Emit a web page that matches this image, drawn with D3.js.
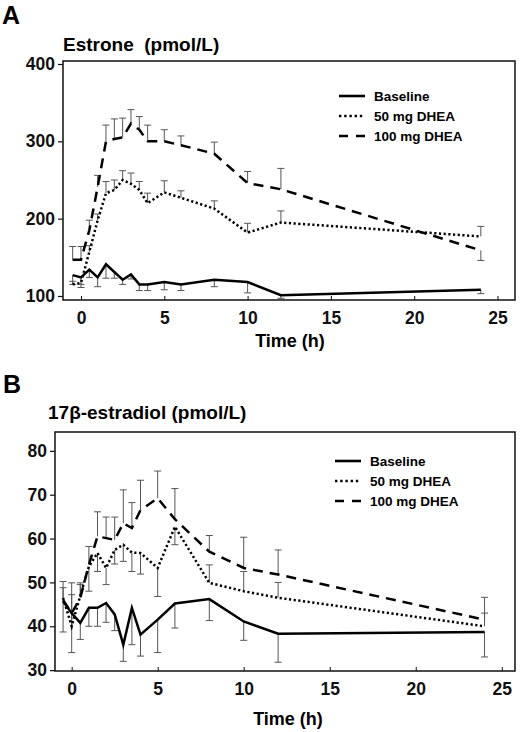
<!DOCTYPE html>
<html>
<head>
<meta charset="utf-8">
<script src="https://cdn.jsdelivr.net/npm/d3@7"></script>
<style>
  body { margin: 0; background: #fff; }
  svg { display: block; font-family: "Liberation Sans", Arial, sans-serif; }
</style>
</head>
<body>
<svg id="chart" width="520" height="732"></svg>
<script>
// Time points (h), shared by both panels
const times = [-0.5, 0, 0.5, 1, 1.5, 2, 2.5, 3, 3.5, 4, 5, 6, 8, 10, 12, 24];
const xTicks = [0, 5, 10, 15, 20, 25];

const seriesNames = ["Baseline", "50 mg DHEA", "100 mg DHEA"];

// Panel A: estrone (pmol/L); errors are signed (negative = bar drawn downwards)
const estroneBaseline = [127, 124, 134, 124, 141, 131, 121, 128, 115, 115, 118, 115, 121, 118, 101, 108];
const estroneBaselineErr = [-12, -9, -10, -12, -18, -8, -6, -6, -8, -8, -10, -8, -9, -14, -4, -5];
const estrone50 = [115, 117, 157, 198, 233, 237, 250, 245, 237, 220, 234, 227, 213, 182, 195, 177];
const estrone50Err = [4, -6, 8, 8, 15, 13, 12, 14, 11, 13, 15, 9, 10, 12, 15, 13];
const estrone100 = [147, 147, 185, 241, 300, 303, 305, 323, 315, 300, 300, 295, 284, 246, 238, 159];
const estrone100Err = [17, 17, 13, 15, 21, 26, 25, 18, 17, 21, 15, 12, 15, 15, 27, -13];
const estroneTicks = [100, 200, 300, 400];

// Panel B: 17beta-estradiol (pmol/L)
const estradiolBaseline = [45.7, 43, 40.8, 44.2, 44.2, 45.3, 42.7, 35.8, 44.2, 38.1, 41.5, 45.2, 46.2, 41.1, 38.3, 38.7];
const estradiolBaselineErr = [-7, -9, -3.8, -4.2, -4.2, -4.4, -3.7, -3.8, -8.4, -4.9, -7.5, -5.6, -4.9, -4.3, -6.5, -5.7];
const estradiol50 = [46.5, 40, 47, 53.6, 56.7, 53.3, 57.4, 58.6, 56.8, 56.7, 53.3, 62.7, 49.9, 48, 46.5, 40];
const estradiol50Err = [2.3, 7.2, 2.5, -5.6, -4.2, -3.8, -3.2, -3.8, -4.3, -4.8, -6.5, -4.1, 4.1, 4.5, 3.5, 3];
const estradiol100 = [46, 43, 46.5, 54, 60.5, 60.1, 59.7, 63.5, 62.4, 66.5, 69.2, 64.4, 57, 53.3, 51.8, 41.5];
const estradiol100Err = [4.2, 6.9, 3.4, 4.2, 5.6, 4.8, 5.2, 7.6, 5.8, 6.8, 6.2, 7, 3.7, 7, 5.6, 5.1];
const estradiolTicks = [30, 40, 50, 60, 70, 80];

const svg = d3.select("#chart");

// line styles for the three series
const dashes = [null, "2.2,2.5", "10,7"];
const legendDashes = [null, "2.4,2.8", "9,8"];

function drawPanel(p) {
    const x = d3.scaleLinear().domain(p.xDomain).range([p.left, p.right]);
    const y = d3.scaleLinear().domain(p.yDomain).range([p.bottom, p.top]);

    // panel letter and title
    svg.append("text")
        .attr("x", p.letterX).attr("y", p.letterY)
        .attr("font-size", 25).attr("font-weight", "bold")
        .text(p.letter);
    svg.append("text")
        .attr("x", p.titleX).attr("y", p.titleY)
        .attr("font-size", 19).attr("font-weight", "bold")
        .attr("xml:space", "preserve")
        .text(p.title);

    // frame
    svg.append("rect")
        .attr("x", p.left).attr("y", p.top)
        .attr("width", p.right - p.left).attr("height", p.bottom - p.top)
        .attr("fill", "none").attr("stroke", "#111").attr("stroke-width", 1.5);

    // y axis: ticks outward
    const yAxis = svg.append("g")
        .attr("transform", `translate(${p.left},0)`)
        .call(d3.axisLeft(y).tickValues(p.yTicks).tickSize(5).tickPadding(3));
    yAxis.select(".domain").remove();
    yAxis.selectAll("line").attr("stroke", "#111").attr("stroke-width", 1.2);
    yAxis.selectAll("text")
        .attr("font-size", 17.5).attr("font-weight", "bold")
        .attr("font-family", "Liberation Sans, Arial, sans-serif").attr("fill", "#111");

    // x axis: small ticks inward, labels below
    const xAxis = svg.append("g")
        .attr("transform", `translate(0,${p.bottom})`)
        .call(d3.axisBottom(x).tickValues(xTicks).tickSize(-4).tickPadding(12));
    xAxis.select(".domain").remove();
    xAxis.selectAll("line").attr("stroke", "#111").attr("stroke-width", 1);
    xAxis.selectAll("text")
        .attr("font-size", 17.5).attr("font-weight", "bold")
        .attr("font-family", "Liberation Sans, Arial, sans-serif").attr("fill", "#111");

    svg.append("text")
        .attr("x", p.xLabelX).attr("y", p.xLabelY)
        .attr("text-anchor", "middle")
        .attr("font-size", 18).attr("font-weight", "bold")
        .text("Time (h)");

    // error bars (one-sided, sign gives direction)
    const capW = 3.5;
    p.series.forEach(s => {
        const g = svg.append("g").attr("stroke", "#555").attr("stroke-width", 1);
        times.forEach((t, i) => {
            const x0 = x(t), y0 = y(s.values[i]), y1 = y(s.values[i] + s.err[i]);
            g.append("line").attr("x1", x0).attr("x2", x0).attr("y1", y0).attr("y2", y1);
            g.append("line").attr("x1", x0 - capW).attr("x2", x0 + capW).attr("y1", y1).attr("y2", y1);
        });
    });

    // series lines
    const line = d3.line().x((d, i) => x(times[i])).y(d => y(d));
    p.series.forEach((s, k) => {
        svg.append("path")
            .datum(s.values)
            .attr("d", line)
            .attr("fill", "none")
            .attr("stroke", "#000")
            .attr("stroke-width", 2.5)
            .attr("stroke-dasharray", dashes[k]);
    });

    // legend
    seriesNames.forEach((name, k) => {
        const ly = p.legendY + k * 20;
        svg.append("line")
            .attr("x1", p.legendX).attr("x2", p.legendX + 26)
            .attr("y1", ly).attr("y2", ly)
            .attr("stroke", "#000").attr("stroke-width", 2.6)
            .attr("stroke-dasharray", legendDashes[k]);
        svg.append("text")
            .attr("x", p.legendX + 35).attr("y", ly + 5)
            .attr("font-size", 13.5).attr("font-weight", "bold")
            .text(name);
    });
}

drawPanel({
    letter: "A", letterX: 2, letterY: 24,
    title: "Estrone  (pmol/L)", titleX: 63, titleY: 51,
    left: 63, right: 515, top: 61, bottom: 300,
    xDomain: [-1.08, 26.05], yDomain: [94.8, 403.9], yTicks: estroneTicks,
    xLabelX: 290, xLabelY: 347,
    legendX: 339, legendY: 96,
    series: [
        { values: estroneBaseline, err: estroneBaselineErr },
        { values: estrone50, err: estrone50Err },
        { values: estrone100, err: estrone100Err }
    ]
});

drawPanel({
    letter: "B", letterX: 3, letterY: 393,
    title: "17β-estradiol (pmol/L)", titleX: 48, titleY: 419,
    left: 55, right: 515, top: 432, bottom: 671,
    xDomain: [-0.97, 25.77], yDomain: [29.8, 84.3], yTicks: estradiolTicks,
    xLabelX: 288, xLabelY: 725,
    legendX: 335, legendY: 461,
    series: [
        { values: estradiolBaseline, err: estradiolBaselineErr },
        { values: estradiol50, err: estradiol50Err },
        { values: estradiol100, err: estradiol100Err }
    ]
});
</script>
</body>
</html>
